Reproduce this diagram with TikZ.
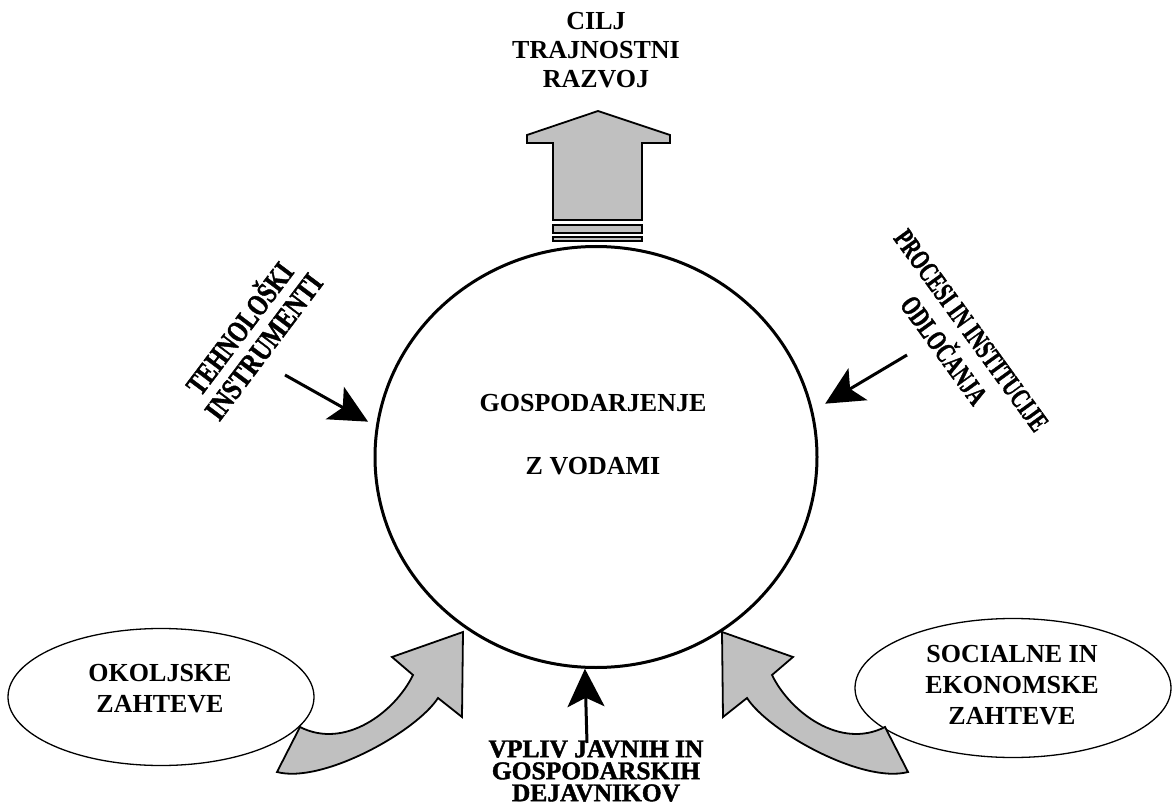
\documentclass[tikz,border=0pt]{standalone}
\usepackage{fontspec}
\usepackage{graphicx}
\setmainfont{Liberation Serif}
\newfontfamily\heavyfont{Liberation Serif}[BoldFeatures={FakeBold=1.6}]
\usetikzlibrary{arrows.meta,shapes.geometric}
\definecolor{arrowgray}{RGB}{192,192,192}
\begin{document}
\begin{tikzpicture}[x=1pt,y=-1pt,
  txt/.style={font=\bfseries\fontsize{26}{#1}\selectfont, align=center, inner sep=0pt},
  heavytxt/.style 2 args={font=\heavyfont\bfseries\fontsize{#1}{#2}\selectfont, align=center, inner sep=0pt},
  blockarrow/.style={fill=arrowgray, draw=black, line width=1.8pt, line join=miter},
  reqbox/.style={ellipse, draw=black, line width=1.3pt, inner sep=0pt},
  thinarrow/.style={line width=3pt, -{Stealth[length=38pt,width=37pt,inset=9pt]}}]
\useasboundingbox (0,0) rectangle (1173,805);

% central circle
\node[ellipse, draw=black, line width=3pt, minimum width=442pt, minimum height=421pt, inner sep=0pt] (water) at (596,457) {};
\node[txt=63] (wtext) at (593,435) {GOSPODARJENJE\\Z VODAMI};

% goal arrow
\draw[blockarrow] (598,111) -- (670,135) -- (670,143) -- (642,143) -- (642,220) -- (553,220) -- (553,143) -- (527,143) -- (527,135) -- cycle;
\draw[blockarrow] (553,225) rectangle (642,233);
\draw[blockarrow] (553,237) rectangle (642,241);
\node[txt=29] (goal) at (596,50.5) {CILJ\\TRAJNOSTNI\\RAZVOJ};

% requirement ellipses
\node[reqbox, minimum width=306pt, minimum height=137pt] (env) at (161,697) {};
\node[txt=31] (envtext) at (160,689) {OKOLJSKE\\ZAHTEVE};
\node[reqbox, minimum width=316pt, minimum height=139pt] (soc) at (1013,688) {};
\node[txt=31] (soctext) at (1012,685.5) {SOCIALNE IN\\EKONOMSKE\\ZAHTEVE};

% curved block arrows
\draw[blockarrow] (277,772) -- (300,727) .. controls (345,750) and (395,712) .. (413,675) -- (392,657) -- (463,632) -- (462,717) -- (438,698) .. controls (416,732) and (322,784) .. (277,772) -- cycle;
\draw[blockarrow] (908,772) -- (885,727) .. controls (840,750) and (790,712) .. (772,675) -- (793,657) -- (722,632) -- (723,717) -- (747,698) .. controls (769,732) and (863,784) .. (908,772) -- cycle;

% rotated labels
\node[heavytxt={30}{30}, rotate=53] (tech) at (249.5,336) {\scalebox{0.77}[1]{TEHNOLOŠKI}\\\scalebox{0.81}[1]{INSTRUMENTI}};
\node[heavytxt={28.5}{34}, rotate=-54] (proc) at (957.5,340.5) {\scalebox{0.68}[1]{PROCESI IN INSTITUCIJE}\\\scalebox{0.70}[1]{ODLOČANJA}};
\node[heavytxt={25.5}{22}] (actors) at (596,771) {VPLIV JAVNIH IN\\GOSPODARSKIH\\DEJAVNIKOV};

% influence arrows
\coordinate (techtail) at (285,375);
\coordinate (proctail) at (907,355);
\coordinate (acttail) at (587,743);
\draw[thinarrow, shorten >=9pt] (techtail) -- (water.172.2);
\draw[thinarrow, shorten >=14pt] (proctail) -- (water.12.3);
\draw[thinarrow] (acttail) -- (water.267.6);
\end{tikzpicture}
\end{document}
